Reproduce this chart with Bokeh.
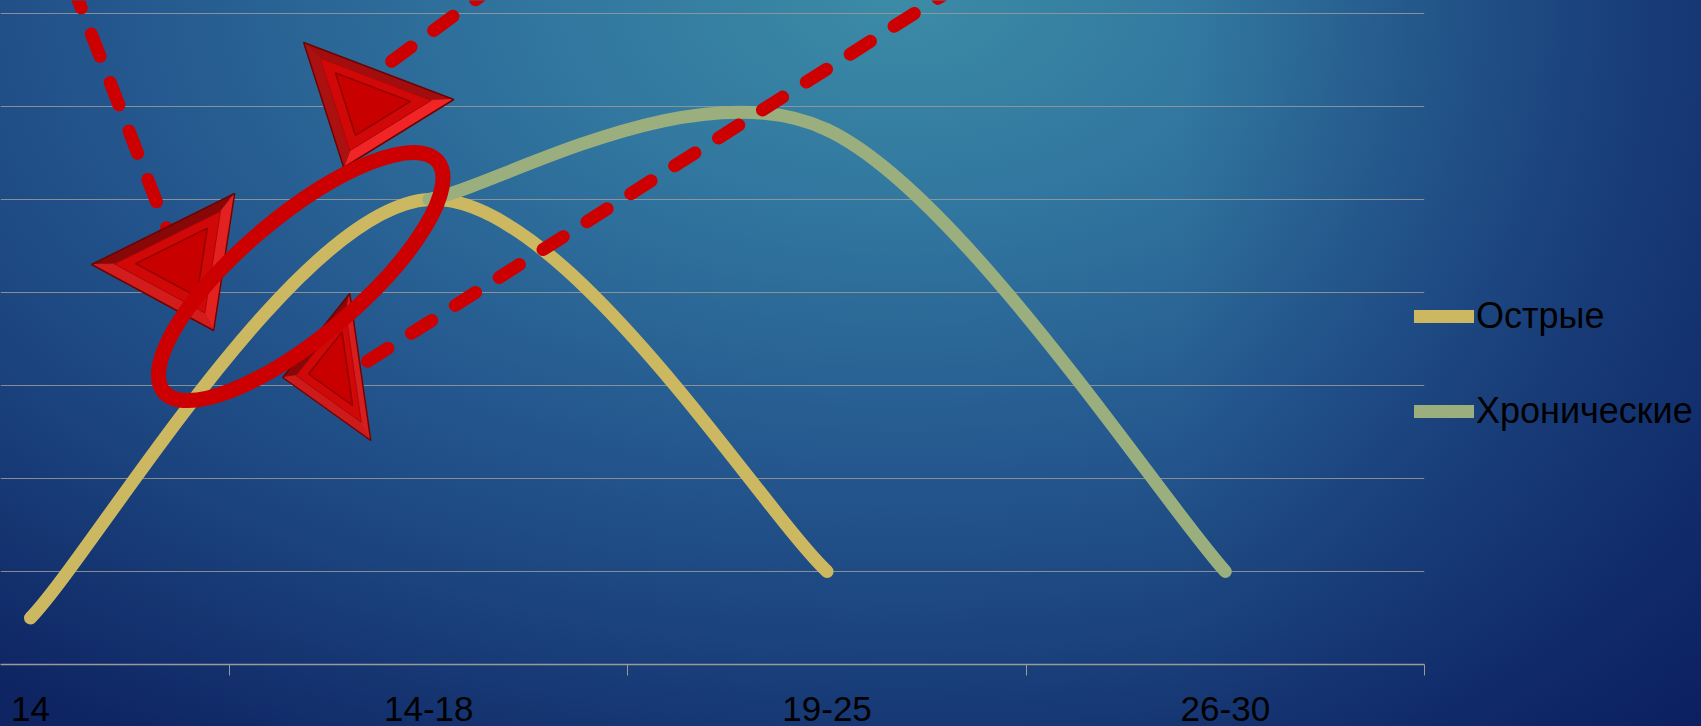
import numpy as np
from bokeh.plotting import figure
from bokeh.models import Range1d, FixedTicker, Legend, LegendItem
from bokeh.embed import file_html
from bokeh.resources import INLINE

# ---- data -------------------------------------------------------------
categories = ["14", "14-18", "19-25", "26-30"]
acute_cat = [0, 1, 2]
acute_val = [0.5, 5.0, 1.0]
chronic_cat = [1, 2, 3]
chronic_val = [5.0, 5.75, 1.0]
grid_levels = [1, 2, 3, 4, 5, 6, 7]

series_names = ["Острые", "Хронические"]
series_colors = ["#cdb862", "#9aae7e"]

# ---- red callouts (canvas pixels, origin top-left) ---------------------
callout_red = "#cc0000"
dash_lines_px = [
    [(72, -15), (167, 230)],
    [(494, -15), (373, 74)],
    [(957, -15), (360, 365)],
]
triangles_px = [
    [(91, 264), (234, 193), (213, 330)],
    [(303, 42), (453, 99), (343, 167)],
    [(349, 293), (282, 377), (370, 440)],
]
ring_center_px = (300, 276)
ring_size_px = (358, 120)
ring_angle = 0.70

# ---- geometry of the frame --------------------------------------------
FRAME_W, FRAME_H = 1424, 664
X0_PX, STEP_PX = 30, 398          # centre of first category, category pitch
UNIT_PX = 93                      # pixels per value unit


def to_data(pt):
    px, py = pt
    return (px - X0_PX) / STEP_PX, (FRAME_H - py) / UNIT_PX


def smooth_segments(xs, ys):
    """Cubic Bezier pieces of a Catmull-Rom style smoothed line."""
    xs = np.asarray(xs, float)
    ys = np.asarray(ys, float)
    px = np.concatenate([[xs[0]], xs, [xs[-1]]])
    py = np.concatenate([[ys[0]], ys, [ys[-1]]])
    out = dict(x0=[], y0=[], x1=[], y1=[], cx0=[], cy0=[], cx1=[], cy1=[])
    for i in range(len(xs) - 1):
        a = np.array([px[i], py[i]])
        b = np.array([px[i + 1], py[i + 1]])
        c = np.array([px[i + 2], py[i + 2]])
        d = np.array([px[i + 3], py[i + 3]])
        c0 = b + (c - a) / 6.0
        c1 = c - (d - b) / 6.0
        out["x0"].append(b[0]); out["y0"].append(b[1])
        out["x1"].append(c[0]); out["y1"].append(c[1])
        out["cx0"].append(c0[0]); out["cy0"].append(c0[1])
        out["cx1"].append(c1[0]); out["cy1"].append(c1[1])
    return out


p = figure(
    frame_width=FRAME_W, frame_height=FRAME_H,
    min_border_left=0, min_border_top=0, min_border_right=1701 - FRAME_W,
    min_border_bottom=726 - FRAME_H,
    x_range=Range1d(-X0_PX / STEP_PX, (FRAME_W - 1 - X0_PX) / STEP_PX),
    y_range=Range1d(0, FRAME_H / UNIT_PX),
    y_axis_location=None,
    output_backend="svg", toolbar_location=None,
    styles={
        "background": (
            "linear-gradient(90deg, rgba(10,28,95,0) 0%, rgba(10,28,95,0) 55%, "
            "rgba(10,28,95,0.55) 80%, rgba(10,28,95,0.85) 100%), "
            "radial-gradient(ellipse 68% 120% at 42% 0%, #3b8ba6 0%, "
            "#30749e 27%, #25598f 52%, #1b437d 74%, #0e2463 100%)"
        )
    },
)
p.background_fill_alpha = 0
p.border_fill_alpha = 0
p.outline_line_color = None

# axis: labels centred on categories, ticks between them
ax = p.xaxis[0]
ax.ticker = FixedTicker(ticks=list(range(len(categories))),
                        minor_ticks=[i + 0.5 for i in range(len(categories))])
ax.major_label_overrides = {i: c for i, c in enumerate(categories)}
ax.major_tick_out = 0
ax.major_tick_in = 0
ax.minor_tick_out = 11
ax.minor_tick_in = 0
ax.minor_tick_line_color = "#9a9a9a"
ax.minor_tick_line_width = 1
ax.axis_line_color = "#9a9a9a"
ax.axis_line_width = 1.5
ax.major_label_text_font = "Liberation Sans"
ax.major_label_text_font_size = "35px"
ax.major_label_text_color = "#000000"
ax.major_label_standoff = 21

p.xgrid.visible = False
p.ygrid.ticker = FixedTicker(ticks=grid_levels)
p.ygrid.grid_line_color = "#9a9a9a"
p.ygrid.grid_line_alpha = 0.85
p.ygrid.grid_line_width = 1

# smoothed series
r_acute = p.bezier(**smooth_segments(acute_cat, acute_val),
                   line_color=series_colors[0], line_width=13, line_cap="round")
r_chronic = p.bezier(**smooth_segments(chronic_cat, chronic_val),
                     line_color=series_colors[1], line_width=13, line_cap="round")

# dashed leader lines
for seg in dash_lines_px:
    pts = [to_data(q) for q in seg]
    p.line([q[0] for q in pts], [q[1] for q in pts], line_color=callout_red,
           line_width=13, line_dash="24 28", line_cap="round")

# bevelled arrow heads
def mix(c1, c2, k):
    a = np.array([int(c1[i:i + 2], 16) for i in (1, 3, 5)], float)
    b = np.array([int(c2[i:i + 2], 16) for i in (1, 3, 5)], float)
    m = np.clip(a + (b - a) * k, 0, 255).astype(int)
    return "#%02x%02x%02x" % tuple(m)

light = np.array([0.6, 0.8]) / np.linalg.norm([0.6, 0.8])
for tri in triangles_px:
    v = np.array(tri, float)
    c = v.mean(axis=0)
    mid = c + (v - c) * 0.74
    inner = c + (v - c) * 0.50
    qx, qy, qc = [], [], []
    for i in range(3):
        a, b = v[i], v[(i + 1) % 3]
        a2, b2 = mid[i], mid[(i + 1) % 3]
        e = b - a
        n = np.array([e[1], -e[0]]) / np.linalg.norm(e)
        if np.dot(n, a - c) < 0:
            n = -n
        k = (np.dot(n, light) + 1) / 2
        quad = [to_data(q) for q in (a, b, b2, a2)]
        qx.append([q[0] for q in quad]); qy.append([q[1] for q in quad])
        qc.append(mix("#8a0707", "#f22626", k))
    p.patches(qx, qy, fill_color=qc, line_color=qc, line_width=1)
    outer = [to_data(q) for q in v]
    p.patch([q[0] for q in outer], [q[1] for q in outer], fill_alpha=0,
            line_color="#6a0505", line_width=1.5)
    md = [to_data(q) for q in mid]
    p.patch([q[0] for q in md], [q[1] for q in md], fill_color="#d00808",
            line_color="#b00606", line_width=1)
    ind = [to_data(q) for q in inner]
    p.patch([q[0] for q in ind], [q[1] for q in ind], fill_color="#c80000",
            line_color="#940303", line_width=1.5)

# ellipse ring
rc = to_data(ring_center_px)
p.ellipse(x=[rc[0]], y=[rc[1]], width=[ring_size_px[0]], height=[ring_size_px[1]],
          width_units="screen", height_units="screen", angle=ring_angle,
          fill_alpha=0, line_color=callout_red, line_width=15)

legend = Legend(
    items=[LegendItem(label=series_names[0], renderers=[r_acute]),
           LegendItem(label=series_names[1], renderers=[r_chronic])],
    location=(-10, 232), orientation="vertical",
    glyph_width=60, glyph_height=40, label_height=40, label_standoff=2,
    spacing=53, padding=0, margin=0,
    border_line_alpha=0, background_fill_alpha=0,
    label_text_font="Liberation Sans", label_text_font_size="36px",
    label_text_color="#000000", label_text_baseline="middle",
)
p.add_layout(legend, "right")

open("out.html", "w").write(file_html(p, INLINE))
